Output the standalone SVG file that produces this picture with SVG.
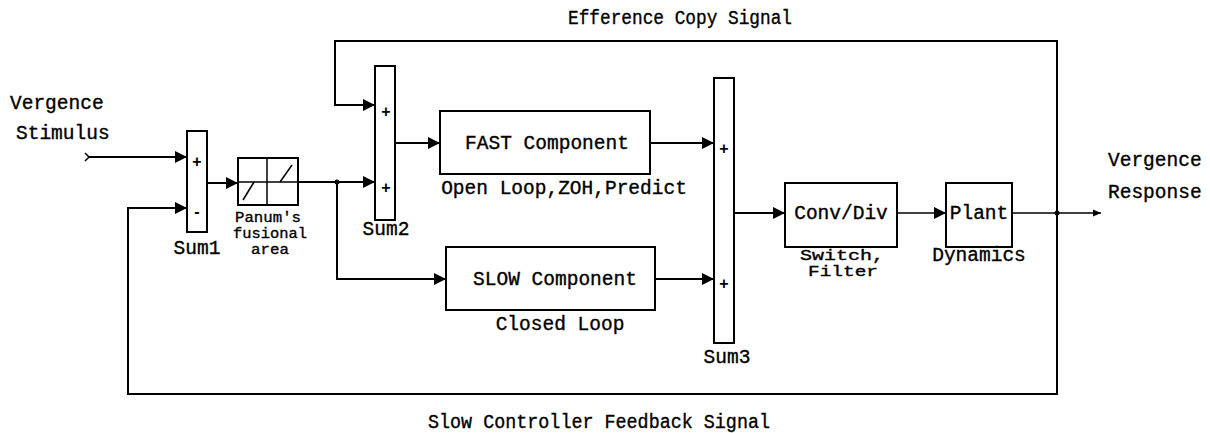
<svg xmlns="http://www.w3.org/2000/svg" width="1210" height="433" viewBox="0 0 1210 433">
  <style>
    .blk { fill: #fff; stroke: #000; stroke-width: 2; }
    .wire { fill: none; stroke: #000; stroke-width: 2; }
    .thin { fill: none; stroke: #000; stroke-width: 1.5; }
    .lbl { font-family: "Liberation Mono", "Courier New", monospace; font-size: 19.5px; fill: #000; stroke: #000; stroke-width: 0.35; }
    .small { font-size: 15.5px; }
    .sign { font-family: "Liberation Sans", Arial, sans-serif; font-size: 16px; font-weight: bold; fill: #000; }
    .dot { fill: #000; }
  </style>
  <defs>
    <marker id="arrow" markerUnits="userSpaceOnUse" markerWidth="13" markerHeight="12" refX="12" refY="6" orient="auto">
      <path d="M0,0 L12,6 L0,12 z" fill="#000"/>
    </marker>
    <marker id="arrowSmall" markerUnits="userSpaceOnUse" markerWidth="9" markerHeight="8" refX="8" refY="4" orient="auto">
      <path d="M0,0.5 L8,4 L0,7.5 z" fill="#000"/>
    </marker>
  </defs>

  <!-- signal lines -->
  <g id="connectors">
    <!-- stimulus input -->
    <path class="thin" d="M85,153 L89,157 L85,161"/>
    <line class="wire" x1="88" y1="157" x2="187" y2="157" marker-end="url(#arrow)"/>
    <!-- Sum1 to Panum -->
    <line class="wire" x1="207" y1="183" x2="238" y2="183" marker-end="url(#arrow)"/>
    <!-- Panum to Sum2 -->
    <line class="wire" x1="298" y1="182" x2="375" y2="182" marker-end="url(#arrow)"/>
    <!-- branch to SLOW -->
    <path class="wire" d="M337,182 L337,279 L446,279" marker-end="url(#arrow)"/>
    <!-- efference copy loop -->
    <path class="wire" d="M1057,213 L1057,41 L335,41 L335,105 L375,105" marker-end="url(#arrow)"/>
    <!-- slow controller feedback loop -->
    <path class="wire" d="M1057,213 L1057,394 L128,394 L128,208 L187,208" marker-end="url(#arrow)"/>
    <!-- Sum2 to FAST -->
    <line class="wire" x1="395" y1="143" x2="440" y2="143" marker-end="url(#arrow)"/>
    <!-- FAST to Sum3 -->
    <line class="wire" x1="650" y1="143" x2="714" y2="143" marker-end="url(#arrow)"/>
    <!-- SLOW to Sum3 -->
    <line class="wire" x1="655" y1="279" x2="714" y2="279" marker-end="url(#arrow)"/>
    <!-- Sum3 to Conv/Div -->
    <line class="wire" x1="734" y1="213" x2="785" y2="213" marker-end="url(#arrow)"/>
    <!-- Conv/Div to Plant -->
    <line class="thin" x1="897" y1="213" x2="946" y2="213" marker-end="url(#arrow)"/>
    <!-- Plant output -->
    <line class="thin" x1="1012" y1="213" x2="1101" y2="213" marker-end="url(#arrowSmall)"/>
    <circle class="dot" cx="337" cy="182" r="2.5"/>
    <circle class="dot" cx="1057" cy="213" r="2.5"/>
  </g>

  <!-- input / output labels -->
  <g id="stimulus">
    <text class="lbl" x="10" y="109">Vergence</text>
    <text class="lbl" x="16" y="139">Stimulus</text>
  </g>
  <g id="response">
    <text class="lbl" x="1108" y="166">Vergence</text>
    <text class="lbl" x="1108" y="198">Response</text>
  </g>

  <g id="sum1">
    <rect class="blk" x="187" y="131" width="20" height="101"/>
    <text class="sign" x="197" y="167" text-anchor="middle">+</text>
    <text class="sign" x="197" y="217" text-anchor="middle">-</text>
    <text class="lbl" x="197" y="254" text-anchor="middle">Sum1</text>
  </g>

  <g id="panum">
    <rect class="blk" x="238" y="158" width="60" height="47"/>
    <line class="thin" x1="267" y1="158" x2="267" y2="205"/>
    <line class="thin" x1="238" y1="182" x2="298" y2="182"/>
    <line class="thin" x1="243" y1="200" x2="254" y2="182"/>
    <line class="thin" x1="280" y1="182" x2="292" y2="165"/>
    <text class="lbl small" x="268" y="222" text-anchor="middle" textLength="66" lengthAdjust="spacingAndGlyphs">Panum's</text>
    <text class="lbl small" x="270" y="238" text-anchor="middle" textLength="74" lengthAdjust="spacingAndGlyphs">fusional</text>
    <text class="lbl small" x="270" y="254" text-anchor="middle" textLength="38" lengthAdjust="spacingAndGlyphs">area</text>
  </g>

  <g id="sum2">
    <rect class="blk" x="375" y="66" width="20" height="154"/>
    <text class="sign" x="386" y="117" text-anchor="middle">+</text>
    <text class="sign" x="386" y="193" text-anchor="middle">+</text>
    <text class="lbl" x="386" y="235" text-anchor="middle">Sum2</text>
  </g>

  <g id="fast">
    <rect class="blk" x="440" y="111" width="210" height="63"/>
    <text class="lbl" x="547" y="149" text-anchor="middle">FAST Component</text>
    <text class="lbl" x="564" y="194" text-anchor="middle">Open Loop,ZOH,Predict</text>
  </g>

  <g id="slow">
    <rect class="blk" x="446" y="247" width="209" height="63"/>
    <text class="lbl" x="555" y="285" text-anchor="middle">SLOW Component</text>
    <text class="lbl" x="560" y="330" text-anchor="middle">Closed Loop</text>
  </g>

  <g id="sum3">
    <rect class="blk" x="714" y="78" width="20" height="265"/>
    <text class="sign" x="724" y="154" text-anchor="middle">+</text>
    <text class="sign" x="724" y="289" text-anchor="middle">+</text>
    <text class="lbl" x="727" y="363" text-anchor="middle">Sum3</text>
  </g>

  <g id="convdiv">
    <rect class="blk" x="785" y="183" width="112" height="64"/>
    <text class="lbl" x="841" y="219" text-anchor="middle">Conv/Div</text>
    <text class="lbl small" x="842" y="260" text-anchor="middle" textLength="84" lengthAdjust="spacingAndGlyphs">Switch,</text>
    <text class="lbl small" x="843" y="276" text-anchor="middle" textLength="70" lengthAdjust="spacingAndGlyphs">Filter</text>
  </g>

  <g id="plant">
    <rect class="blk" x="946" y="183" width="66" height="64"/>
    <text class="lbl" x="979" y="219" text-anchor="middle">Plant</text>
    <text class="lbl" x="979" y="261" text-anchor="middle">Dynamics</text>
  </g>

  <!-- loop signal labels -->
  <g id="efference-label">
    <text class="lbl" x="568" y="24" textLength="224" lengthAdjust="spacingAndGlyphs">Efference Copy Signal</text>
  </g>
  <g id="feedback-label">
    <text class="lbl" x="428" y="428" textLength="342" lengthAdjust="spacingAndGlyphs">Slow Controller Feedback Signal</text>
  </g>
</svg>
